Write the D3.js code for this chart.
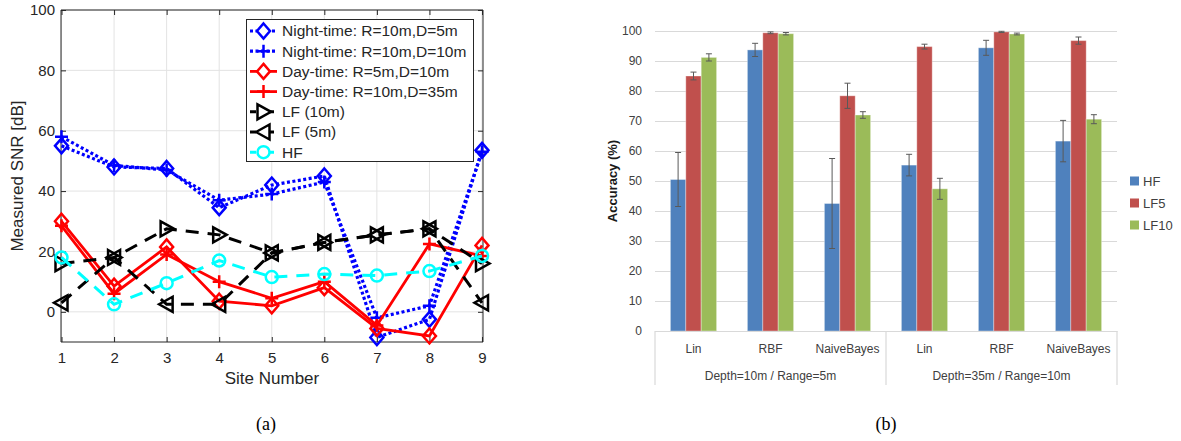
<!DOCTYPE html>
<html>
<head>
<meta charset="utf-8">
<script src="https://cdn.jsdelivr.net/npm/d3@7"></script>
<style>
  body { margin: 0; background: #fff; }
  svg { display: block; }
</style>
</head>
<body>
<svg id="chart" width="1181" height="441"></svg>
<script>
// ---- (a) dữ liệu SNR theo vị trí ----
const sites = [1, 2, 3, 4, 5, 6, 7, 8, 9];
const snrTicks = [0, 20, 40, 60, 80, 100];
const nightD5 = [55, 48, 47.5, 34.5, 42, 45, -8.5, -2.5, 53.5];
const nightD10 = [58, 48.5, 47, 37, 39, 43, -2, 2, 53];
const dayR5 = [30, 8.5, 21.5, 3.5, 2, 8, -5.5, -8, 22];
const dayR10 = [28.5, 6, 19, 10, 4.5, 10, -4.5, 22.5, 18.5];
const lf10m = [16, 18, 27.5, 25.5, 19.5, 23, 25.5, 27.5, 16];
const lf5m = [3, 18, 2.5, 2.5, 19.5, 23, 25.5, 27.5, 3];
const hfSnr = [18, 2.5, 9.5, 17, 11.5, 12.5, 12, 13.5, 18.5];

// ---- (b) dữ liệu độ chính xác ----
const classifiers = ["Lin", "RBF", "NaiveBayes", "Lin", "RBF", "NaiveBayes"];
const groupLabels = ["Depth=10m / Range=5m", "Depth=35m / Range=10m"];
const seriesNames = ["HF", "LF5", "LF10"];
const hfAcc = [50.5, 93.7, 42.5, 55.3, 94.4, 63.3];
const hfErr = [9, 2.2, 15, 3.6, 2.5, 6.9];
const lf5Acc = [85, 99.4, 78.4, 94.8, 99.7, 96.8];
const lf5Err = [1.3, 0.3, 4.2, 0.8, 0.2, 1.2];
const lf10Acc = [91.2, 99.1, 72, 47.4, 99, 70.6];
const lf10Err = [1.2, 0.4, 1.1, 3.5, 0.3, 1.5];

const svg = d3.select("#chart");

// ================= (a) line chart =================
const A = { left: 61, right: 483, top: 10, bottom: 342 };
const xA = d3.scaleLinear().domain([1, 9]).range([A.left + 0.5, A.right - 1]);
const yA = d3.scaleLinear().domain([-10, 100]).range([A.bottom, A.top]);
const fontA = "'Liberation Sans', Arial, sans-serif";
const ink = "#262626";

const gA = svg.append("g");

// lưới
gA.append("g")
  .selectAll("line.vx").data(sites).join("line")
  .attr("x1", d => xA(d)).attr("x2", d => xA(d))
  .attr("y1", A.top).attr("y2", A.bottom)
  .attr("stroke", "#e3e3e3");
gA.append("g")
  .selectAll("line.hy").data(snrTicks).join("line")
  .attr("x1", A.left).attr("x2", A.right)
  .attr("y1", d => yA(d)).attr("y2", d => yA(d))
  .attr("stroke", "#e3e3e3");

// trục (ticks hướng vào trong, có khung)
const axB = gA.append("g").attr("transform", `translate(0,${A.bottom})`)
  .call(d3.axisBottom(xA).tickValues(sites).tickSize(-5).tickPadding(10));
const axT = gA.append("g").attr("transform", `translate(0,${A.top})`)
  .call(d3.axisTop(xA).tickValues(sites).tickSize(-5).tickFormat(""));
const axL = gA.append("g").attr("transform", `translate(${A.left},0)`)
  .call(d3.axisLeft(yA).tickValues(snrTicks).tickSize(-5).tickPadding(6));
const axR = gA.append("g").attr("transform", `translate(${A.right},0)`)
  .call(d3.axisRight(yA).tickValues(snrTicks).tickSize(-5).tickFormat(""));
[axB, axT, axL, axR].forEach(ax => {
  ax.select(".domain").attr("stroke", ink).attr("stroke-width", 1);
  ax.selectAll(".tick line").attr("stroke", ink);
  ax.selectAll("text").attr("fill", ink).style("font-family", fontA).style("font-size", "15px");
});
// khung trục: đường domain nối liền các cạnh
axB.select(".domain").attr("d", `M${A.left},0H${A.right}`);
axT.select(".domain").attr("d", `M${A.left},0H${A.right}`);
axL.select(".domain").attr("d", `M0,${A.top}V${A.bottom}`);
axR.select(".domain").attr("d", `M0,${A.top}V${A.bottom}`);

gA.append("text")
  .attr("x", (A.left + A.right) / 2).attr("y", 384)
  .attr("text-anchor", "middle").attr("fill", ink)
  .style("font-family", fontA).style("font-size", "17px")
  .text("Site Number");
gA.append("text")
  .attr("transform", `translate(23,${(A.top + A.bottom) / 2}) rotate(-90)`)
  .attr("text-anchor", "middle").attr("fill", ink)
  .style("font-family", fontA).style("font-size", "17px")
  .text("Measured SNR [dB]");

// các hình marker
const markerPath = {
  diamond: "M0,-7.5L6.5,0L0,7.5L-6.5,0Z",
  plus: "M-6.5,0H6.5M0,-6.5V6.5",
  triRight: "M-6,-7.5L7.5,0L-6,7.5Z",
  triLeft: "M6,-7.5L-7.5,0L6,7.5Z",
  circle: "M6,0A6,6 0 1 1 -6,0A6,6 0 1 1 6,0Z"
};

const seriesA = [
  { name: "Night-time: R=10m,D=5m", values: nightD5, color: "#0000ff", dash: "3,2.5", width: 3.2, marker: "diamond" },
  { name: "Night-time: R=10m,D=10m", values: nightD10, color: "#0000ff", dash: "3,2.5", width: 3.2, marker: "plus" },
  { name: "Day-time: R=5m,D=10m", values: dayR5, color: "#ff0000", dash: null, width: 2.8, marker: "diamond" },
  { name: "Day-time: R=10m,D=35m", values: dayR10, color: "#ff0000", dash: null, width: 2.8, marker: "plus" },
  { name: "LF (10m)", values: lf10m, color: "#000000", dash: "13,9", width: 3, marker: "triRight" },
  { name: "LF (5m)", values: lf5m, color: "#000000", dash: "13,9", width: 3, marker: "triLeft" },
  { name: "HF", values: hfSnr, color: "#00ffff", dash: "13,9", width: 3, marker: "circle" }
];

const line = d3.line().x((d, i) => xA(sites[i])).y(d => yA(d));

seriesA.forEach(s => {
  const g = gA.append("g");
  g.append("path")
    .attr("d", line(s.values))
    .attr("fill", "none")
    .attr("stroke", s.color)
    .attr("stroke-width", s.width)
    .attr("stroke-dasharray", s.dash);
  g.selectAll("path.m").data(s.values).join("path")
    .attr("class", "m")
    .attr("transform", (d, i) => `translate(${xA(sites[i])},${yA(d)})`)
    .attr("d", markerPath[s.marker])
    .attr("fill", "none")
    .attr("stroke", s.color)
    .attr("stroke-width", 2.5);
});

// chú giải (a)
const legA = gA.append("g");
legA.append("rect")
  .attr("x", 246.5).attr("y", 19.5).attr("width", 227).attr("height", 142)
  .attr("fill", "#fff").attr("stroke", ink).attr("stroke-width", 1);
seriesA.forEach((s, i) => {
  const y = 31 + i * 20.2;
  legA.append("line")
    .attr("x1", 250).attr("x2", 277).attr("y1", y).attr("y2", y)
    .attr("stroke", s.color).attr("stroke-width", s.width)
    .attr("stroke-dasharray", s.dash ? (s.dash === "3,2.5" ? "3,2.5" : "6,3") : null);
  legA.append("path")
    .attr("transform", `translate(263.5,${y})`)
    .attr("d", markerPath[s.marker])
    .attr("fill", "#fff").attr("stroke", s.color).attr("stroke-width", 2.5);
  legA.append("text")
    .attr("x", 282).attr("y", y).attr("dy", "0.35em")
    .attr("fill", ink)
    .style("font-family", fontA).style("font-size", "15.5px")
    .text(s.name);
});

// ================= (b) bar chart =================
const B = { left: 655, right: 1117, top: 31, bottom: 331 };
const fontB = "'Liberation Sans', Arial, sans-serif";
const inkB = "#404040";
const ids = classifiers.map((c, i) => `${i}-${c}`);

const x0 = d3.scaleBand().domain(ids).range([B.left, B.right])
  .paddingInner(0.4).paddingOuter(0.2);
const x1 = d3.scaleBand().domain(seriesNames).range([0, x0.bandwidth()]);
const yB = d3.scaleLinear().domain([0, 100]).range([B.bottom, B.top]);
const colorB = d3.scaleOrdinal().domain(seriesNames).range(["#4f81bd", "#c0504d", "#9bbb59"]);

const gB = svg.append("g");

// trục y + lưới ngang
const axY = gB.append("g").attr("transform", `translate(${B.left},0)`)
  .call(d3.axisLeft(yB).tickValues(d3.range(0, 101, 10)).tickSize(-(B.right - B.left)).tickPadding(13));
axY.select(".domain").remove();
axY.selectAll(".tick line").attr("stroke", "#d9d9d9").attr("stroke-width", 1.2);
axY.selectAll("text").attr("fill", inkB).style("font-family", fontB).style("font-size", "12px");

gB.append("text")
  .attr("transform", `translate(612,${(B.top + B.bottom) / 2}) rotate(-90)`)
  .attr("text-anchor", "middle").attr("dy", "0.35em")
  .attr("fill", "#1a1a1a")
  .style("font-family", fontB).style("font-size", "13px").style("font-weight", "bold")
  .text("Accuracy (%)");

// dữ liệu dạng bảng cho các cột
const barRows = ids.map((id, i) => ({
  id,
  vals: [
    { s: "HF", v: hfAcc[i], e: hfErr[i] },
    { s: "LF5", v: lf5Acc[i], e: lf5Err[i] },
    { s: "LF10", v: lf10Acc[i], e: lf10Err[i] }
  ]
}));

const groups = gB.append("g").selectAll("g").data(barRows).join("g")
  .attr("transform", d => `translate(${x0(d.id)},0)`);

groups.selectAll("rect").data(d => d.vals).join("rect")
  .attr("x", d => x1(d.s))
  .attr("y", d => yB(d.v))
  .attr("width", x1.bandwidth())
  .attr("height", d => yB(0) - yB(d.v))
  .attr("fill", d => colorB(d.s))
  .attr("stroke", "rgba(255,255,255,0.35)")
  .attr("stroke-width", 1);

// thanh sai số
const errG = groups.selectAll("g.err").data(d => d.vals).join("g")
  .attr("class", "err")
  .attr("transform", d => `translate(${x1(d.s) + x1.bandwidth() / 2},0)`);
errG.append("line")
  .attr("y1", d => yB(d.v - d.e)).attr("y2", d => yB(d.v + d.e))
  .attr("stroke", "#595959").attr("stroke-width", 1);
errG.append("line")
  .attr("x1", -3).attr("x2", 3)
  .attr("y1", d => yB(d.v + d.e)).attr("y2", d => yB(d.v + d.e))
  .attr("stroke", "#595959").attr("stroke-width", 1);
errG.append("line")
  .attr("x1", -3).attr("x2", 3)
  .attr("y1", d => yB(d.v - d.e)).attr("y2", d => yB(d.v - d.e))
  .attr("stroke", "#595959").attr("stroke-width", 1);

// trục danh mục nhiều tầng
const axX = gB.append("g").attr("transform", `translate(0,${B.bottom})`)
  .call(d3.axisBottom(x0).tickSize(0).tickPadding(13).tickFormat(id => id.split("-")[1]));
axX.select(".domain").attr("stroke", "#d9d9d9").attr("stroke-width", 1.2);
axX.selectAll("text").attr("fill", inkB).style("font-family", fontB).style("font-size", "12px");

const step = x0.step();
const seps = [B.left, B.left + 3 * step, B.right];
gB.append("g").selectAll("line").data(seps).join("line")
  .attr("x1", d => d).attr("x2", d => d)
  .attr("y1", B.bottom).attr("y2", 385)
  .attr("stroke", "#d9d9d9").attr("stroke-width", 1.2);

gB.append("g").selectAll("text").data(groupLabels).join("text")
  .attr("x", (d, i) => (seps[i] + seps[i + 1]) / 2)
  .attr("y", 376).attr("dy", "0.35em")
  .attr("text-anchor", "middle").attr("fill", inkB)
  .style("font-family", fontB).style("font-size", "12px")
  .text(d => d);

// chú giải (b)
const legB = gB.append("g").selectAll("g").data(seriesNames).join("g")
  .attr("transform", (d, i) => `translate(1130,${181 + i * 22})`);
legB.append("rect")
  .attr("x", 0).attr("y", -4.5).attr("width", 9).attr("height", 9)
  .attr("fill", d => colorB(d));
legB.append("text")
  .attr("x", 13).attr("dy", "0.35em")
  .attr("fill", inkB)
  .style("font-family", fontB).style("font-size", "13px")
  .text(d => d);

// chú thích (a) (b)
svg.append("g").selectAll("text").data(["(a)", "(b)"]).join("text")
  .attr("x", (d, i) => [266, 886][i])
  .attr("y", 424).attr("dy", "0.35em")
  .attr("text-anchor", "middle").attr("fill", "#000")
  .style("font-family", "'Liberation Serif', 'Times New Roman', serif")
  .style("font-size", "18px")
  .text(d => d);
</script>
</body>
</html>
